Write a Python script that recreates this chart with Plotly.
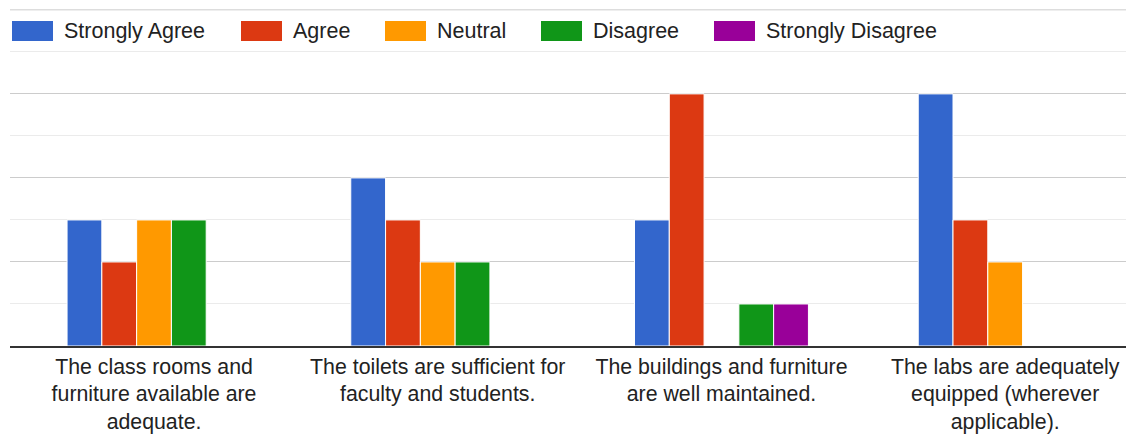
import plotly.graph_objects as go

categories = [
    "The class rooms and<br>furniture available are<br>adequate.",
    "The toilets are sufficient for<br>faculty and students.",
    "The buildings and furniture<br>are well maintained.",
    "The labs are adequately<br>equipped (wherever<br>applicable).",
]
series_names = ["Strongly Agree", "Agree", "Neutral", "Disagree", "Strongly Disagree"]
strongly_agree = [3, 4, 3, 6]
agree = [2, 3, 6, 3]
neutral = [3, 2, 0, 2]
disagree = [3, 2, 1, 0]
strongly_disagree = [0, 0, 1, 0]
colors = ["#3366cc", "#dc3912", "#ff9900", "#109618", "#990099"]
y_max = 8

values = [strongly_agree, agree, neutral, disagree, strongly_disagree]
xs = list(range(len(categories)))

fig = go.Figure()
for name, vals, col in zip(series_names, values, colors):
    fig.add_trace(go.Bar(
        x=xs, y=vals, name=name,
        marker=dict(color=col, line=dict(color="white", width=1)),
        showlegend=False,
    ))

FONT = "Liberation Sans, Arial, sans-serif"
OFF = 8  # page body margin
W, H = 1126, 426
ml, mt, mb, mr = 2, 1, 88, 0
pw, ph = W - ml - mr, H - mt - mb

def px2x(px):
    return (px - OFF - ml) / pw

def py2y(py):
    return (H - mb - (py - OFF)) / ph

# top gridline (plotly drops grid lines at the very edge)
shapes = [dict(type="line", xref="paper", yref="y", x0=0, x1=1, y0=y_max, y1=y_max,
               line=dict(color="#cccccc", width=1), layer="below")]
annotations = []
# custom legend (wide swatches like the original)
legend_swatch_x = [12, 241, 385, 541, 714]
for name, col, sx in zip(series_names, colors, legend_swatch_x):
    shapes.append(dict(type="rect", xref="paper", yref="paper",
                       x0=px2x(sx), x1=px2x(sx + 41), y0=py2y(41), y1=py2y(21),
                       fillcolor=col, line=dict(width=0), layer="above"))
    annotations.append(dict(xref="paper", yref="paper", x=px2x(sx + 50), y=py2y(31),
                            text=name, showarrow=False, xanchor="left", yanchor="middle",
                            font=dict(family=FONT, size=21.5, color="#222222")))

fig.update_layout(
    width=W, height=H,
    margin=dict(l=ml, r=mr, t=mt, b=mb, pad=0),
    paper_bgcolor="white", plot_bgcolor="white",
    barmode="group", bargap=0.387, bargroupgap=0,
    shapes=shapes, annotations=annotations,
    font=dict(family=FONT, size=21, color="#222222"),
    xaxis=dict(
        range=[-0.5076, 3.454], tickmode="array", tickvals=xs, ticktext=categories,
        showgrid=False, zeroline=False, showline=True, linecolor="#333333", linewidth=2,
        ticks="", tickfont=dict(family=FONT, size=21.3, color="#222222"),
    ),
    yaxis=dict(
        range=[0, 8.02], dtick=2, showticklabels=False, ticks="",
        gridcolor="#cccccc", gridwidth=1, zeroline=False,
        minor=dict(dtick=1, showgrid=True, gridcolor="#ebebeb", gridwidth=1),
    ),
)

fig.write_html("out.html")
